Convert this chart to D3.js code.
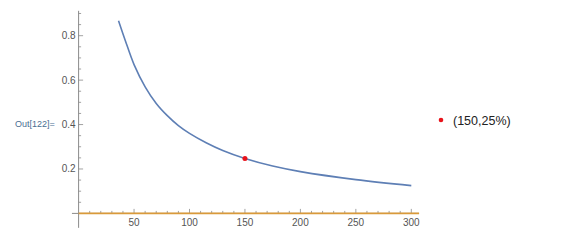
<!DOCTYPE html>
<html>
<head>
<meta charset="UTF-8">
<script src="https://d3js.org/d3.v7.min.js"></script>
<style>
  body { margin: 0; background: #fff; }
  svg { display: block; font-family: "Liberation Sans", Arial, sans-serif; }
</style>
</head>
<body>
<svg width="579" height="246"></svg>
<script>
// values
const curveX = [36, 42, 50, 60, 70, 80, 90, 100, 115, 130, 150, 175, 200, 250, 300];
const curveY = [0.867, 0.78, 0.67, 0.57, 0.495, 0.44, 0.395, 0.36, 0.318, 0.283, 0.247, 0.213, 0.188, 0.152, 0.125];
const point = {x: 150, y: 0.247, label: "(150,25%)"};
const xTicks = [50, 100, 150, 200, 250, 300];
const yTicks = [0.2, 0.4, 0.6, 0.8];

const svg = d3.select("svg");

// scales fitted to the tick positions
const x = d3.scaleLinear().domain([0, 300]).range([78.6, 411.3]);
const y = d3.scaleLinear().domain([0, 0.8]).range([213.4, 35.7]);

const axisColor = "#8a8a8a";
const labelColor = "#555";

// x axis line (extends a bit left past the y axis)
svg.append("line")
    .attr("x1", x(-6)).attr("x2", x(307))
    .attr("y1", y(0)).attr("y2", y(0))
    .attr("stroke", axisColor).attr("stroke-width", 1);

// y axis line
svg.append("line")
    .attr("x1", x(0)).attr("x2", x(0))
    .attr("y1", y(0.912)).attr("y2", y(-0.065))
    .attr("stroke", axisColor).attr("stroke-width", 1);

// x minor + major ticks (point up into the plot)
const xMinor = d3.range(10, 301, 10);
svg.selectAll(".xt").data(xMinor).join("line")
    .attr("class", "xt")
    .attr("x1", d => x(d)).attr("x2", d => x(d))
    .attr("y1", y(0))
    .attr("y2", d => y(0) - (d % 50 === 0 ? 4.5 : 2.5))
    .attr("stroke", axisColor).attr("stroke-width", 0.8);

svg.selectAll(".xl").data(xTicks).join("text")
    .attr("class", "xl")
    .attr("x", d => x(d)).attr("y", y(0) + 13)
    .attr("text-anchor", "middle")
    .attr("font-size", 10)
    .attr("fill", labelColor)
    .text(d => d);

// y minor + major ticks (point right into the plot)
const yMinor = d3.range(1, 19).map(i => i * 0.05);
svg.selectAll(".yt").data(yMinor).join("line")
    .attr("class", "yt")
    .attr("x1", x(0))
    .attr("x2", (d, i) => x(0) + ((i + 1) % 4 === 0 ? 4.5 : 2.5))
    .attr("y1", d => y(d)).attr("y2", d => y(d))
    .attr("stroke", axisColor).attr("stroke-width", 0.8);

svg.selectAll(".yl").data(yTicks).join("text")
    .attr("class", "yl")
    .attr("x", x(0) - 3).attr("y", d => y(d) + 3.5)
    .attr("text-anchor", "end")
    .attr("font-size", 10)
    .attr("fill", labelColor)
    .text(d => d.toFixed(1));

// orange zero line
svg.append("line")
    .attr("x1", x(0)).attr("x2", x(307))
    .attr("y1", y(0)).attr("y2", y(0))
    .attr("stroke", "#d99a3a").attr("stroke-width", 1.6);

// the curve
const pts = curveX.map((v, i) => [v, curveY[i]]);
svg.append("path")
    .datum(pts)
    .attr("fill", "none")
    .attr("stroke", "#5e7fb5")
    .attr("stroke-width", 1.6)
    .attr("d", d3.line().x(d => x(d[0])).y(d => y(d[1])).curve(d3.curveCatmullRom));

// marked point
svg.append("circle")
    .attr("cx", x(point.x)).attr("cy", y(point.y))
    .attr("r", 2.5).attr("fill", "#e8131b");

// legend
svg.append("circle")
    .attr("cx", 441).attr("cy", 120)
    .attr("r", 2.3).attr("fill", "#e8131b");
svg.append("text")
    .attr("x", 453).attr("y", 124.5)
    .attr("font-size", 12.5)
    .attr("fill", "#222")
    .text(point.label);

// Out[] label
svg.append("text")
    .attr("x", 15).attr("y", 127)
    .attr("font-size", 9)
    .attr("fill", "#4a6e92")
    .text("Out[122]=");
</script>
</body>
</html>
